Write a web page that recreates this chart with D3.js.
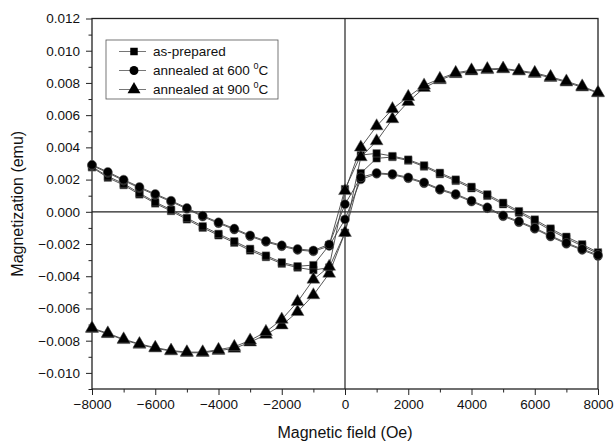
<!DOCTYPE html>
<html>
<head>
<meta charset="utf-8">
<script src="https://cdn.jsdelivr.net/npm/d3@7"></script>
<style>
  body { margin: 0; background: #fff; }
  svg { font-family: Arial, "Liberation Sans", sans-serif; }
</style>
</head>
<body>
<svg id="chart" width="616" height="445"></svg>
<script>
// magnetic field steps (Oe)
var fields = [-8000, -7500, -7000, -6500, -6000, -5500, -5000, -4500, -4000, -3500, -3000,
  -2500, -2000, -1500, -1000, -500, 0, 500, 1000, 1500, 2000, 2500, 3000, 3500, 4000,
  4500, 5000, 5500, 6000, 6500, 7000, 7500, 8000];

// as-prepared, ascending / descending branch (same field order)
var asPrepUp = [0.00276, 0.00212, 0.00166, 0.00108, 0.00052, 0.00005, -0.00047, -0.00099, -0.00146,
  -0.00192, -0.00240, -0.00281, -0.00322, -0.00346, -0.00362, -0.00346, -0.00130, 0.00240, 0.00332,
  0.00340, 0.00318, 0.00281, 0.00234, 0.00192, 0.00146, 0.00099, 0.00047, -0.00005, -0.00058,
  -0.00114, -0.00165, -0.00212, -0.00260];
var asPrepDown = [0.00280, 0.00220, 0.00175, 0.00116, 0.00060, 0.00013, -0.00038, -0.00090, -0.00137,
  -0.00183, -0.00230, -0.00272, -0.00314, -0.00338, -0.00331, -0.00207, 0.00141, 0.00352, 0.00363,
  0.00346, 0.00324, 0.00288, 0.00242, 0.00200, 0.00155, 0.00108, 0.00056, 0.00004, -0.00048,
  -0.00104, -0.00155, -0.00202, -0.00252];

// annealed at 600 C
var ann600Up = [0.00288, 0.00242, 0.00194, 0.00148, 0.00105, 0.00063, 0.00018, -0.00030, -0.00071,
  -0.00110, -0.00152, -0.00187, -0.00214, -0.00237, -0.00246, -0.00212, -0.00047, 0.00201, 0.00236,
  0.00230, 0.00208, 0.00177, 0.00136, 0.00105, 0.00063, 0.00022, -0.00028, -0.00065, -0.00106,
  -0.00154, -0.00199, -0.00237, -0.00275];
var ann600Down = [0.00292, 0.00248, 0.00200, 0.00154, 0.00111, 0.00069, 0.00024, -0.00024, -0.00065,
  -0.00104, -0.00146, -0.00181, -0.00208, -0.00231, -0.00240, -0.00202, 0.00047, 0.00214, 0.00241,
  0.00235, 0.00214, 0.00183, 0.00142, 0.00111, 0.00069, 0.00028, -0.00022, -0.00059, -0.00100,
  -0.00148, -0.00193, -0.00231, -0.00268];

// annealed at 900 C
var ann900Up = [-0.00726, -0.00758, -0.00795, -0.00824, -0.00847, -0.00865, -0.00875, -0.00875, -0.00862,
  -0.00848, -0.00810, -0.00762, -0.00704, -0.00621, -0.00517, -0.00383, -0.00130, 0.00340, 0.00439,
  0.00576, 0.00683, 0.00770, 0.00818, 0.00856, 0.00873, 0.00881, 0.00886, 0.00872, 0.00857,
  0.00832, 0.00804, 0.00773, 0.00737];
var ann900Down = [-0.00722, -0.00754, -0.00791, -0.00820, -0.00843, -0.00861, -0.00871, -0.00871, -0.00856,
  -0.00838, -0.00798, -0.00745, -0.00668, -0.00559, -0.00420, -0.00340, 0.00130, 0.00400, 0.00532,
  0.00638, 0.00714, 0.00785, 0.00826, 0.00863, 0.00879, 0.00887, 0.00890, 0.00877, 0.00863,
  0.00838, 0.00810, 0.00779, 0.00741];

var seriesNames = ["as-prepared", "annealed at 600 ", "annealed at 900 "];
var seriesSymbols = [d3.symbolSquare, d3.symbolCircle, d3.symbolTriangle];
var xTicks = [-8000, -6000, -4000, -2000, 0, 2000, 4000, 6000, 8000];
var yTicks = [-0.010, -0.008, -0.006, -0.004, -0.002, 0.000, 0.002, 0.004, 0.006, 0.008, 0.010, 0.012];

var margin = {top: 18.5, right: 18, bottom: 56, left: 92};
var width = 616 - margin.left - margin.right;
var height = 445 - margin.top - margin.bottom;

var svg = d3.select("#chart");
var g = svg.append("g").attr("transform", "translate(" + margin.left + "," + margin.top + ")");

var x = d3.scaleLinear().domain([-8000, 8000]).range([0, width]);
var y = d3.scaleLinear().domain([-0.011, 0.012]).range([height, 0]);

// minor ticks
var xMinor = d3.range(-8000, 8001, 1000).filter(function (v) { return v % 2000 !== 0; });
var yMinor = d3.range(-11, 13, 1).filter(function (v) { return v % 2 !== 0; }).map(function (v) { return v / 1000; });

g.append("g").attr("transform", "translate(0," + height + ")")
  .call(d3.axisBottom(x).tickValues(xMinor).tickSize(3.5).tickFormat(""))
  .call(function (a) { a.select(".domain").remove(); });
g.append("g")
  .call(d3.axisLeft(y).tickValues(yMinor).tickSize(3.5).tickFormat(""))
  .call(function (a) { a.select(".domain").remove(); });

var xAxis = g.append("g").attr("transform", "translate(0," + height + ")")
  .call(d3.axisBottom(x).tickValues(xTicks).tickSize(6).tickPadding(4).tickFormat(d3.format("d")));
xAxis.select(".domain").remove();
xAxis.selectAll("text").attr("font-size", 13.5).attr("fill", "#111");

var yAxis = g.append("g")
  .call(d3.axisLeft(y).tickValues(yTicks).tickSize(6).tickPadding(6).tickFormat(d3.format(".3f")));
yAxis.select(".domain").remove();
yAxis.selectAll("text").attr("font-size", 13.5).attr("fill", "#111");

g.selectAll(".tick line").attr("stroke", "#222");

// frame and zero lines
g.append("rect").attr("width", width).attr("height", height)
  .attr("fill", "none").attr("stroke", "#222").attr("stroke-width", 1.3);
g.append("line").attr("x1", x(0)).attr("x2", x(0)).attr("y1", 0).attr("y2", height)
  .attr("stroke", "#222").attr("stroke-width", 1.2);
g.append("line").attr("x1", 0).attr("x2", width).attr("y1", y(0)).attr("y2", y(0))
  .attr("stroke", "#222").attr("stroke-width", 1.2);

// build loops: ascending branch then descending
var loops = [
  {up: asPrepUp, down: asPrepDown},
  {up: ann600Up, down: ann600Down},
  {up: ann900Up, down: ann900Down}
];

var line = d3.line().x(function (d) { return x(d[0]); }).y(function (d) { return y(d[1]); });

loops.forEach(function (s) {
  var up = fields.map(function (f, i) { return [f, s.up[i]]; });
  var down = fields.map(function (f, i) { return [f, s.down[i]]; }).reverse();
  s.points = up.concat(down);
  g.append("path").datum(up).attr("d", line)
    .attr("fill", "none").attr("stroke", "#444").attr("stroke-width", 0.9);
  g.append("path").datum(down).attr("d", line)
    .attr("fill", "none").attr("stroke", "#444").attr("stroke-width", 0.9);
});

var symSizes = [56, 62, 72];
loops.forEach(function (s, k) {
  g.selectAll(".m" + k).data(s.points).enter().append("path")
    .attr("class", "m" + k)
    .attr("transform", function (d) { return "translate(" + x(d[0]) + "," + y(d[1]) + ")"; })
    .attr("d", d3.symbol().type(seriesSymbols[k]).size(symSizes[k]))
    .attr("fill", "#000").attr("stroke", "#666").attr("stroke-width", 0.5);
});

// legend
var lg = svg.append("g").attr("transform", "translate(106,40)");
lg.append("rect").attr("width", 172).attr("height", 59)
  .attr("fill", "#fff").attr("stroke", "#555").attr("stroke-width", 0.8);
seriesNames.forEach(function (name, k) {
  var yy = 11.5 + k * 19;
  lg.append("line").attr("x1", 13).attr("x2", 40).attr("y1", yy).attr("y2", yy)
    .attr("stroke", "#666").attr("stroke-width", 0.9);
  lg.append("path").attr("transform", "translate(28," + yy + ")")
    .attr("d", d3.symbol().type(seriesSymbols[k]).size(symSizes[k]))
    .attr("fill", "#000");
  var t = lg.append("text").attr("x", 47).attr("y", yy + 4.5)
    .attr("font-size", 13.5).attr("fill", "#111").text(name);
  if (k > 0) {
    t.append("tspan").attr("font-size", 9).attr("dy", -6).text("0");
    t.append("tspan").attr("font-size", 13.5).attr("dy", 6).text("C");
  }
});

// axis titles
svg.append("text").attr("x", margin.left + x(0)).attr("y", 438)
  .attr("text-anchor", "middle").attr("font-size", 16).attr("fill", "#111")
  .text("Magnetic field (Oe)");
svg.append("text").attr("transform", "translate(23," + (margin.top + height / 2) + ") rotate(-90)")
  .attr("text-anchor", "middle").attr("font-size", 16).attr("fill", "#111")
  .text("Magnetization (emu)");
</script>
</body>
</html>
